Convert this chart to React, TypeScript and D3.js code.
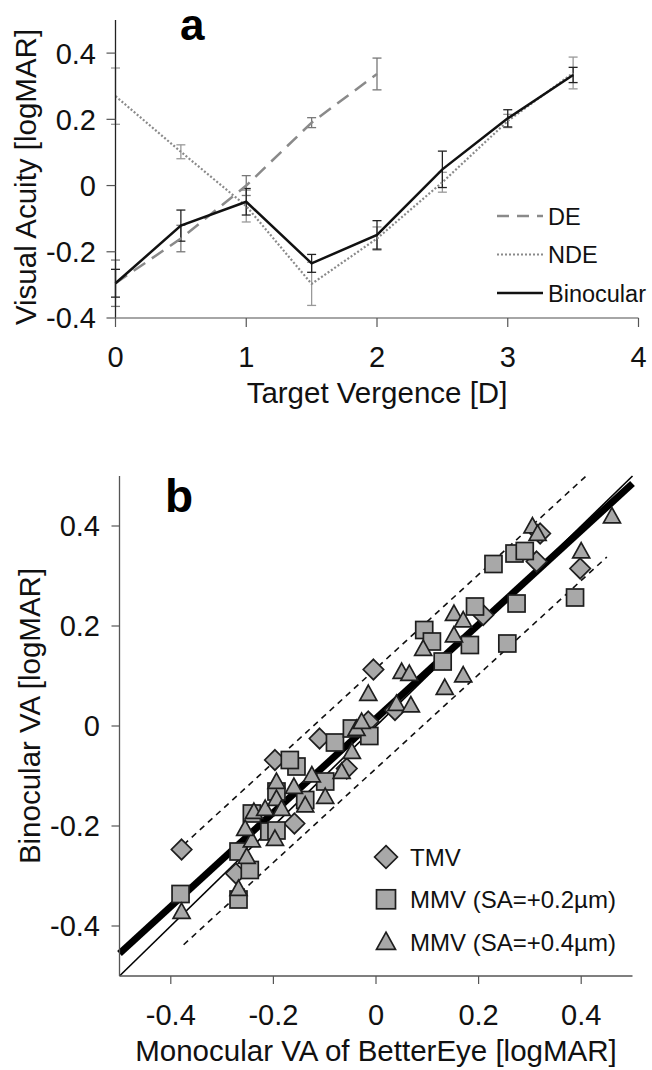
import React from "react";
import * as d3 from "d3";

// ---------- Panel a data ----------
const vergence = [0, 0.5, 1, 1.5, 2, 2.5, 3, 3.5];
const deX = [0, 0.5, 1, 1.5, 2];
const deVA = [-0.295, -0.16, 0.0, 0.19, 0.337];
const deErr = [0.07, 0.04, 0.03, 0.015, 0.048];
const ndeVA = [0.27, 0.102, -0.062, -0.297, -0.16, 0.01, 0.195, 0.34];
const ndeErr = [0.085, 0.021, 0.048, 0.065, 0.035, 0.03, 0.02, 0.048];
const binVA = [-0.295, -0.121, -0.049, -0.235, -0.149, 0.049, 0.203, 0.334];
const binErr = [0.042, 0.047, 0.04, 0.027, 0.043, 0.055, 0.026, 0.023];
const aXTicks = [0, 1, 2, 3, 4];
const aYTicks = [-0.4, -0.2, 0, 0.2, 0.4];
const aLegend = ["DE", "NDE", "Binocular"];

// ---------- Panel b data ----------
const tmvX = [-0.379, -0.273, -0.159, -0.197, -0.11, -0.015, -0.057, -0.005, 0.037, 0.209, 0.313, 0.398, 0.32];
const tmvY = [-0.247, -0.295, -0.195, -0.068, -0.025, 0.009, -0.085, 0.113, 0.032, 0.222, 0.329, 0.315, 0.385];
const mmv2X = [-0.381, -0.268, -0.246, -0.268, -0.242, -0.208, -0.194, -0.194, -0.155, -0.168, -0.138, -0.099, -0.08, -0.047, -0.013, 0.13, 0.094, 0.109, 0.183, 0.256, 0.193, 0.274, 0.229, 0.388, 0.27, 0.29];
const mmv2Y = [-0.336, -0.347, -0.288, -0.251, -0.175, -0.211, -0.209, -0.131, -0.081, -0.068, -0.148, -0.111, -0.033, -0.005, -0.02, 0.129, 0.192, 0.169, 0.162, 0.165, 0.239, 0.245, 0.324, 0.257, 0.345, 0.35];
const mmv4X = [-0.379, -0.268, -0.252, -0.242, -0.255, -0.238, -0.216, -0.197, -0.194, -0.184, -0.194, -0.16, -0.138, -0.125, -0.099, -0.047, -0.067, -0.038, -0.028, -0.015, 0.04, 0.068, 0.05, 0.065, 0.134, 0.17, 0.092, 0.152, 0.152, 0.17, 0.305, 0.315, 0.4, 0.46];
const mmv4Y = [-0.371, -0.325, -0.261, -0.228, -0.205, -0.171, -0.165, -0.225, -0.145, -0.165, -0.111, -0.121, -0.158, -0.098, -0.141, -0.051, -0.091, -0.005, 0.009, 0.065, 0.045, 0.042, 0.109, 0.105, 0.077, 0.102, 0.155, 0.182, 0.225, 0.212, 0.4, 0.385, 0.35, 0.42];
const fitSlope = 0.94;
const fitIntercept = 0.015;
const bandOffset = 0.1;
const upperBandRange = [-0.375, 0.41];
const lowerBandRange = [-0.375, 0.45];
const bTicks = [-0.4, -0.2, 0, 0.2, 0.4];
const bLegend = ["TMV", "MMV (SA=+0.2µm)", "MMV (SA=+0.4µm)"];

const FONT = "'Liberation Sans', Arial, sans-serif";
const AXIS = "#555";
const FILL = "#a8a8a8";
const EDGE = "#1e1e1e";
const TICK_FS = 29;
const LABEL_FS = 29.5;

function ErrorBars({ xs, ys, es, x, y, color }: any) {
  return (
    <g stroke={color} strokeWidth={1.3}>
      {xs.map((xv: number, i: number) => {
        const px = x(xv);
        const t = y(ys[i] + es[i]);
        const b = y(ys[i] - es[i]);
        return (
          <g key={i}>
            <line x1={px} x2={px} y1={t} y2={b} />
            <line x1={px - 4.5} x2={px + 4.5} y1={t} y2={t} />
            <line x1={px - 4.5} x2={px + 4.5} y1={b} y2={b} />
          </g>
        );
      })}
    </g>
  );
}

function PanelA() {
  const x = d3.scaleLinear().domain([0, 4]).range([115.5, 638.5]);
  const y = d3.scaleLinear().domain([-0.4, 0.5]).range([318, 20]);
  const line = d3.line<[number, number]>().x((d) => x(d[0])).y((d) => y(d[1]));
  const dePts = deX.map((v, i) => [v, deVA[i]] as [number, number]);
  const ndePts = vergence.map((v, i) => [v, ndeVA[i]] as [number, number]);
  const binPts = vergence.map((v, i) => [v, binVA[i]] as [number, number]);
  const styles = [
    { stroke: "#8a8a8a", width: 2.5, dash: "14,8" },
    { stroke: "#8a8a8a", width: 2.2, dash: "2,2" },
    { stroke: "#111", width: 2.5, dash: "" },
  ];
  return (
    <g fontFamily={FONT}>
      <ErrorBars xs={deX} ys={deVA} es={deErr} x={x} y={y} color="#777" />
      <ErrorBars xs={vergence} ys={ndeVA} es={ndeErr} x={x} y={y} color="#999" />
      <ErrorBars xs={vergence} ys={binVA} es={binErr} x={x} y={y} color="#222" />
      <path d={line(ndePts)!} fill="none" stroke={styles[1].stroke} strokeWidth={styles[1].width} strokeDasharray={styles[1].dash} />
      <path d={line(dePts)!} fill="none" stroke={styles[0].stroke} strokeWidth={styles[0].width} strokeDasharray={styles[0].dash} />
      <path d={line(binPts)!} fill="none" stroke={styles[2].stroke} strokeWidth={styles[2].width} />
      {/* axes */}
      <line x1={x(0)} x2={x(0)} y1={y(0.5)} y2={y(-0.4)} stroke="#222" strokeWidth={1.3} />
      <line x1={x(0)} x2={x(4)} y1={y(-0.4)} y2={y(-0.4)} stroke="#888" strokeWidth={1.3} />
      {aYTicks.map((t) => (
        <g key={t}>
          <line x1={x(0) - 9} x2={x(0)} y1={y(t)} y2={y(t)} stroke={AXIS} strokeWidth={1.2} />
          <text x={96} y={y(t)} dy="0.36em" textAnchor="end" fontSize={TICK_FS} fill="#111">
            {t === 0 ? "0" : d3.format(".1f")(t).replace("−", "-")}
          </text>
        </g>
      ))}
      {aXTicks.map((t) => (
        <g key={t}>
          <line x1={x(t)} x2={x(t)} y1={y(-0.4)} y2={y(-0.4) + 9} stroke={AXIS} strokeWidth={1.2} />
          <text x={x(t)} y={367} textAnchor="middle" fontSize={TICK_FS} fill="#111">
            {t}
          </text>
        </g>
      ))}
      <text x={377} y={403} textAnchor="middle" fontSize={LABEL_FS} fill="#111">
        Target Vergence [D]
      </text>
      <text transform={`translate(36,${(y(0.5) + y(-0.4)) / 2 + 8}) rotate(-90)`} textAnchor="middle" fontSize={LABEL_FS} fill="#111">
        Visual Acuity [logMAR]
      </text>
      <text x={180} y={40} fontSize={44} fontWeight="bold" fill="#000">
        a
      </text>
      {aLegend.map((name, i) => (
        <g key={name} transform={`translate(497,${216 + i * 38.5})`}>
          <line x1={0} x2={46} y1={0} y2={0} stroke={styles[i].stroke} strokeWidth={styles[i].width} strokeDasharray={styles[i].dash ? (i === 0 ? "12,8" : "2,2") : undefined} />
          <text x={51} y={8.5} fontSize={23.5} fill="#111">
            {name}
          </text>
        </g>
      ))}
    </g>
  );
}

function Marker({ kind, cx, cy, s }: any) {
  if (kind === 0) {
    const r = s * 0.6;
    return <path d={`M${cx},${cy - r}L${cx + r},${cy}L${cx},${cy + r}L${cx - r},${cy}Z`} fill={FILL} stroke={EDGE} strokeWidth={1.7} />;
  }
  if (kind === 1) {
    return <rect x={cx - s / 2} y={cy - s / 2} width={s} height={s} fill={FILL} stroke={EDGE} strokeWidth={1.7} />;
  }
  const h = s * 0.9;
  return <path d={`M${cx},${cy - h * 0.55}L${cx + s / 2},${cy + h * 0.45}L${cx - s / 2},${cy + h * 0.45}Z`} fill={FILL} stroke={EDGE} strokeWidth={1.7} />;
}

function PanelB() {
  const x = d3.scaleLinear().domain([-0.5, 0.5]).range([119.5, 632.5]);
  const y = d3.scaleLinear().domain([-0.5, 0.5]).range([976, 476]);
  const fit = (v: number) => fitIntercept + fitSlope * v;
  const groups = [
    { kind: 0, xs: tmvX, ys: tmvY },
    { kind: 1, xs: mmv2X, ys: mmv2Y },
    { kind: 2, xs: mmv4X, ys: mmv4Y },
  ];
  return (
    <g fontFamily={FONT}>
      {/* identity line */}
      <line x1={x(-0.5)} y1={y(-0.5)} x2={x(0.5)} y2={y(0.5)} stroke="#000" strokeWidth={1.6} />
      {/* fit line */}
      <line x1={x(-0.5)} y1={y(fit(-0.5))} x2={x(0.5)} y2={y(fit(0.5))} stroke="#000" strokeWidth={7} />
      {/* prediction band */}
      <line x1={x(upperBandRange[0])} y1={y(fit(upperBandRange[0]) + bandOffset)} x2={x(upperBandRange[1])} y2={y(fit(upperBandRange[1]) + bandOffset)} stroke="#111" strokeWidth={1.6} strokeDasharray="6,5" />
      <line x1={x(lowerBandRange[0])} y1={y(fit(lowerBandRange[0]) - bandOffset)} x2={x(lowerBandRange[1])} y2={y(fit(lowerBandRange[1]) - bandOffset)} stroke="#111" strokeWidth={1.6} strokeDasharray="6,5" />
      {groups.map((g) =>
        g.xs.map((v: number, i: number) => <Marker key={`${g.kind}-${i}`} kind={g.kind} cx={x(v)} cy={y(g.ys[i])} s={17} />)
      )}
      {/* axes */}
      <line x1={x(-0.5)} x2={x(-0.5)} y1={y(0.5)} y2={y(-0.5)} stroke={AXIS} strokeWidth={1.3} />
      <line x1={x(-0.5)} x2={x(0.5)} y1={y(-0.5)} y2={y(-0.5)} stroke={AXIS} strokeWidth={1.3} />
      {bTicks.map((t) => (
        <g key={`y${t}`}>
          <line x1={x(-0.5) - 8} x2={x(-0.5)} y1={y(t)} y2={y(t)} stroke={AXIS} strokeWidth={1.2} />
          <text x={100} y={y(t)} dy="0.36em" textAnchor="end" fontSize={TICK_FS} fill="#111">
            {t === 0 ? "0" : d3.format(".1f")(t).replace("−", "-")}
          </text>
        </g>
      ))}
      {bTicks.map((t) => (
        <g key={`x${t}`}>
          <line x1={x(t)} x2={x(t)} y1={y(-0.5)} y2={y(-0.5) + 8} stroke={AXIS} strokeWidth={1.2} />
          <text x={x(t)} y={1025} textAnchor="middle" fontSize={TICK_FS} fill="#111">
            {t === 0 ? "0" : d3.format(".1f")(t).replace("−", "-")}
          </text>
        </g>
      ))}
      <text x={376} y={1061} textAnchor="middle" fontSize={LABEL_FS} fill="#111">
        Monocular VA of BetterEye [logMAR]
      </text>
      <text transform={`translate(40,716) rotate(-90)`} textAnchor="middle" fontSize={LABEL_FS} fill="#111">
        Binocular VA [logMAR]
      </text>
      <text x={165} y={512} fontSize={46} fontWeight="bold" fill="#000">
        b
      </text>
      {bLegend.map((name, i) => (
        <g key={name}>
          <Marker kind={i} cx={386} cy={857 + i * 42.3} s={19} />
          <text x={410} y={866 + i * 42.3} fontSize={24} fill="#111">
            {name}
          </text>
        </g>
      ))}
    </g>
  );
}

export default function App() {
  return (
    <svg width={652} height={1070} style={{ display: "block", position: "absolute", left: 0, top: 0, background: "#fff" }}>
      <rect width={652} height={1070} fill="#fff" />
      <PanelA />
      <PanelB />
    </svg>
  );
}
